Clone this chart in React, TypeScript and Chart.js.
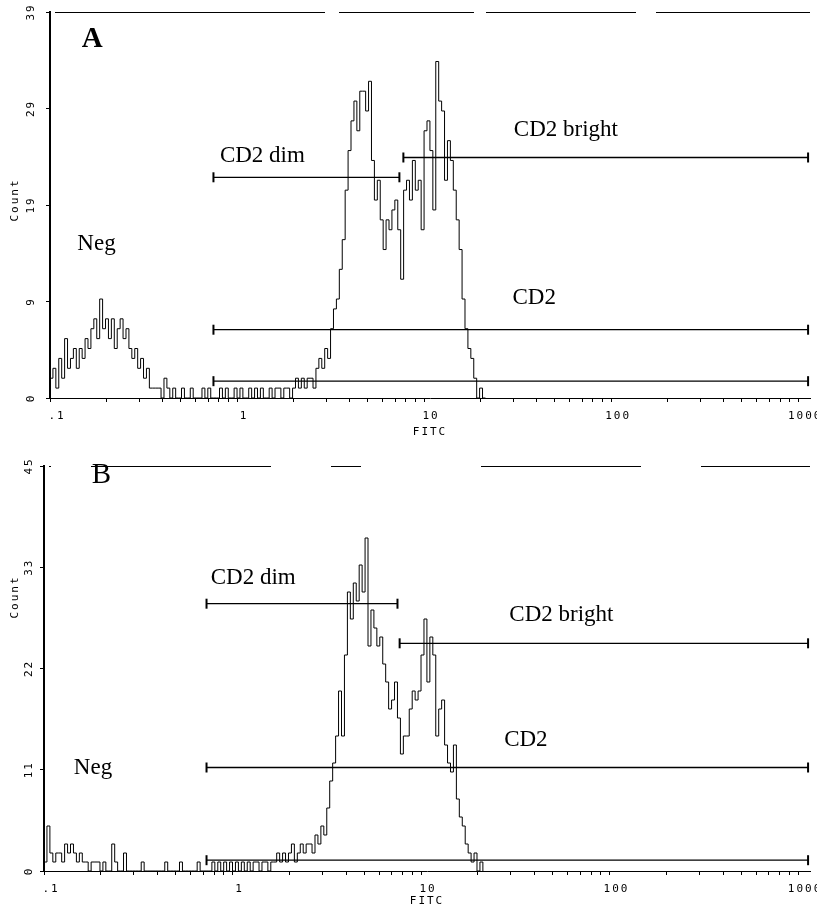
import React, { useEffect, useRef } from 'react';
import { Chart, registerables } from 'chart.js';

Chart.register(...registerables);

// ---------- shared axis data ----------
const CHANNELS_PER_DECADE = 64;
const X_MIN = 0.1;
const X_MAX = 1157;
const X_TICK_VALUES = [0.1, 1, 10, 100, 1000];
const X_TICK_LABELS = ['.1', '1', '10', '100', '1000'];
const X_MINOR_MULTIPLIERS = [2, 3, 4, 5, 6, 7, 8, 9];

// ---------- panel A ----------
const A_COUNTS = [
  2, 3, 1, 4, 2, 6, 3, 4, 5, 3,
  5, 4, 6, 5, 7, 8, 6, 10, 7, 8,
  6, 8, 5, 7, 8, 6, 7, 5, 4, 5,
  3, 4, 2, 3, 1, 1, 1, 1, 0, 2,
  1, 0, 1, 0, 0, 1, 0, 0, 1, 0,
  0, 0, 1, 0, 1, 0, 0, 0, 1, 0,
  1, 0, 0, 1, 0, 1, 0, 0, 1, 0,
  1, 0, 1, 0, 0, 1, 0, 1, 1, 0,
  1, 1, 0, 1, 2, 1, 2, 1, 2, 2,
  1, 3, 4, 3, 5, 4, 7, 9, 10, 13,
  16, 21, 25, 28, 30, 27, 31, 31, 29, 32,
  24, 20, 22, 18, 15, 18, 17, 19, 20, 17,
  12, 21, 22, 20, 24, 21, 22, 17, 27, 28,
  25, 19, 34, 30, 29, 22, 26, 24, 21, 18,
  15, 10, 7, 5, 4, 2, 0, 1, 0, 0,
];
const A_Y_MAX = 39;
const A_Y_TICKS = [0, 9.75, 19.5, 29.25, 39];
const A_Y_LABELS = ['0', '9', '19', '29', '39'];
const A_MARKER_LEVELS = [22.3, 24.3, 6.9, 1.7];
const A_MARKER_STARTS = [0.748, 7.75, 0.748, 0.748];
const A_MARKER_ENDS = [7.38, 1130, 1130, 1130];
const A_LABEL_TEXTS = ['Neg', 'CD2 dim', 'CD2 bright', 'CD2'];
const A_LABEL_X = [0.14, 0.81, 30.2, 29.7];
const A_LABEL_Y = [15.6, 24.5, 27.1, 10.1];

// ---------- panel B ----------
const B_COUNTS = [
  1, 5, 2, 1, 2, 2, 1, 3, 2, 3,
  2, 1, 2, 1, 1, 0, 1, 1, 1, 0,
  1, 0, 0, 3, 1, 0, 0, 2, 0, 0,
  0, 0, 0, 1, 0, 0, 0, 0, 0, 0,
  0, 1, 0, 0, 0, 0, 1, 0, 0, 0,
  0, 0, 1, 0, 0, 0, 0, 1, 0, 1,
  0, 1, 0, 1, 0, 1, 0, 1, 0, 1,
  0, 1, 1, 0, 1, 1, 0, 1, 1, 2,
  1, 2, 1, 2, 3, 1, 2, 3, 2, 3,
  3, 2, 4, 3, 5, 4, 7, 10, 12, 15,
  20, 15, 24, 31, 28, 32, 30, 34, 31, 37,
  25, 29, 27, 25, 26, 23, 21, 18, 19, 21,
  17, 13, 15, 15, 18, 20, 19, 20, 24, 28,
  21, 26, 24, 15, 18, 19, 14, 12, 11, 14,
  8, 6, 5, 3, 2, 1, 2, 0, 1, 0,
];
const B_Y_MAX = 45;
const B_Y_TICKS = [0, 11.25, 22.5, 33.75, 45];
const B_Y_LABELS = ['0', '11', '22', '33', '45'];
const B_MARKER_LEVELS = [29.7, 25.3, 11.5, 1.2];
const B_MARKER_STARTS = [0.728, 7.7, 0.728, 0.728];
const B_MARKER_ENDS = [7.5, 1130, 1130, 1130];
const B_LABEL_TEXTS = ['Neg', 'CD2 dim', 'CD2 bright', 'CD2'];
const B_LABEL_X = [0.144, 0.766, 29.4, 27.6];
const B_LABEL_Y = [11.4, 32.6, 28.4, 14.6];

// ---------- layout (pixels, not data) ----------
const PANELS = [
  {
    counts: A_COUNTS, yMax: A_Y_MAX, yTicks: A_Y_TICKS, yLabels: A_Y_LABELS,
    markerLevels: A_MARKER_LEVELS, markerStarts: A_MARKER_STARTS, markerEnds: A_MARKER_ENDS,
    labelTexts: A_LABEL_TEXTS, labelX: A_LABEL_X, labelY: A_LABEL_Y,
    letter: 'A', letterX: 0.148, letterY: 36.2, letterBold: true,
    top: 0, height: 445, padTop: 12, xAxisHeight: 47, yAxisWidth: 50, yTickPad: 8,
    fitcPad: 7, countX: 15, countY: 200,
    topDash: [270, 14, 135, 12, 150, 20, 300],
  },
  {
    counts: B_COUNTS, yMax: B_Y_MAX, yTicks: B_Y_TICKS, yLabels: B_Y_LABELS,
    markerLevels: B_MARKER_LEVELS, markerStarts: B_MARKER_STARTS, markerEnds: B_MARKER_ENDS,
    labelTexts: B_LABEL_TEXTS, labelX: B_LABEL_X, labelY: B_LABEL_Y,
    letter: 'B', letterX: 0.179, letterY: 44.0, letterBold: false,
    top: 445, height: 462, padTop: 21, xAxisHeight: 36, yAxisWidth: 44, yTickPad: 4,
    fitcPad: 0, countX: 15, countY: 152,
    topDash: [2, 40, 180, 60, 30, 120, 160, 60, 200],
  },
];

const MONO = 'DejaVu Sans Mono';
const SERIF = '"Liberation Serif", "Times New Roman", serif';

const xTickList: number[] = [];
X_TICK_VALUES.forEach((base, k) => {
  xTickList.push(base);
  if (k < X_TICK_VALUES.length - 1) X_MINOR_MULTIPLIERS.forEach((m) => xTickList.push(base * m));
});

function xLabel(value: number): string {
  const idx = X_TICK_VALUES.findIndex((v) => Math.abs(Math.log10(v) - Math.log10(value)) < 1e-6);
  return idx >= 0 ? X_TICK_LABELS[idx] : '';
}

function makeConfig(spec: any) {
  const histogram = spec.counts.map((c: number, i: number) => ({
    x: X_MIN * Math.pow(10, i / CHANNELS_PER_DECADE),
    y: c,
  }));
  const datasets: any[] = [
    {
      data: histogram,
      borderColor: '#000',
      borderWidth: 1,
      pointRadius: 0,
      stepped: true,
      fill: false,
    },
  ];
  spec.markerLevels.forEach((lvl: number, i: number) => {
    datasets.push({
      data: [
        { x: spec.markerStarts[i], y: lvl },
        { x: spec.markerEnds[i], y: lvl },
      ],
      borderColor: '#000',
      borderWidth: 1.3,
      pointStyle: 'line',
      pointRadius: 5,
      pointRotation: 90,
      pointBorderColor: '#000',
      pointBorderWidth: 2,
      fill: false,
    });
  });

  const textPlugin = {
    id: 'panelText',
    beforeDraw(chart: any) {
      (chart.ctx as any).letterSpacing = '2px';
    },
    afterDraw(chart: any) {
      const { ctx, chartArea } = chart;
      const xs = chart.scales.x;
      const ys = chart.scales.y;
      ctx.save();
      (ctx as any).letterSpacing = '0px';
      // broken top frame line
      ctx.strokeStyle = '#000';
      ctx.lineWidth = 1;
      ctx.setLineDash(spec.topDash);
      ctx.beginPath();
      ctx.moveTo(chartArea.left + 5, chartArea.top + 0.5);
      ctx.lineTo(chartArea.right, chartArea.top + 0.5);
      ctx.stroke();
      ctx.setLineDash([]);
      // annotations
      ctx.fillStyle = '#000';
      ctx.textAlign = 'left';
      ctx.textBaseline = 'middle';
      ctx.font = `23px ${SERIF}`;
      spec.labelTexts.forEach((t: string, i: number) => {
        ctx.fillText(t, xs.getPixelForValue(spec.labelX[i]), ys.getPixelForValue(spec.labelY[i]));
      });
      ctx.font = `${spec.letterBold ? 'bold ' : ''}29px ${SERIF}`;
      ctx.fillText(spec.letter, xs.getPixelForValue(spec.letterX), ys.getPixelForValue(spec.letterY));
      // Count
      (ctx as any).letterSpacing = '2px';
      ctx.translate(spec.countX, spec.countY);
      ctx.rotate(-Math.PI / 2);
      ctx.textAlign = 'center';
      ctx.font = `11px ${MONO}`;
      ctx.fillText('Count', 0, 0);
      ctx.restore();
      (ctx as any).letterSpacing = '0px';
    },
  };

  return {
    type: 'line',
    data: { datasets },
    plugins: [textPlugin],
    options: {
      responsive: false,
      animation: false,
      layout: { padding: { top: spec.padTop, left: 0, right: 0, bottom: 0 } },
      plugins: { legend: { display: false }, tooltip: { enabled: false } },
      scales: {
        x: {
          type: 'logarithmic',
          min: X_MIN,
          max: X_MAX,
          afterBuildTicks: (s: any) => {
            s.ticks = xTickList.map((v) => ({ value: v }));
          },
          afterFit: (s: any) => {
            s.height = spec.xAxisHeight;
            s.paddingLeft = 0;
            s.paddingRight = 0;
          },
          ticks: {
            autoSkip: false,
            minRotation: 0,
            maxRotation: 0,
            padding: 8,
            labelOffset: 7,
            color: '#000',
            font: { family: MONO, size: 11 },
            callback: (v: any) => xLabel(Number(v)),
          },
          grid: { display: true, drawOnChartArea: false, drawTicks: true, tickLength: 4, color: '#000', lineWidth: 1 },
          border: { display: true, color: '#000', width: 1 },
          title: {
            display: true,
            text: 'FITC',
            color: '#000',
            font: { family: MONO, size: 11, lineHeight: 1 },
            padding: { top: 0, bottom: spec.fitcPad },
          },
        },
        y: {
          type: 'linear',
          min: 0,
          max: spec.yMax,
          afterBuildTicks: (s: any) => {
            s.ticks = spec.yTicks.map((v: number) => ({ value: v }));
          },
          afterFit: (s: any) => {
            s.width = spec.yAxisWidth;
            s.paddingTop = 0;
            s.paddingBottom = 0;
          },
          ticks: {
            minRotation: 90,
            maxRotation: 90,
            crossAlign: 'center',
            padding: spec.yTickPad,
            color: '#000',
            font: { family: MONO, size: 11 },
            callback: (_v: any, i: number) => spec.yLabels[i],
          },
          grid: { display: true, drawOnChartArea: false, drawTicks: true, tickLength: 4, color: '#000', lineWidth: 1 },
          border: { display: true, color: '#000', width: 2 },
        },
      },
    },
  };
}

function Panel({ spec }: { spec: any }) {
  const ref = useRef<HTMLCanvasElement>(null);
  useEffect(() => {
    const chart = new Chart(ref.current as HTMLCanvasElement, makeConfig(spec) as any);
    return () => chart.destroy();
  }, [spec]);
  return (
    <canvas
      ref={ref}
      width={817}
      height={spec.height}
      style={{ position: 'absolute', left: 0, top: spec.top, width: 817, height: spec.height, display: 'block' }}
    />
  );
}

export default function App() {
  return (
    <div style={{ position: 'absolute', left: 0, top: 0, width: 817, height: 907, background: '#fff', overflow: 'hidden' }}>
      {PANELS.map((p) => (
        <Panel key={p.letter} spec={p} />
      ))}
    </div>
  );
}
